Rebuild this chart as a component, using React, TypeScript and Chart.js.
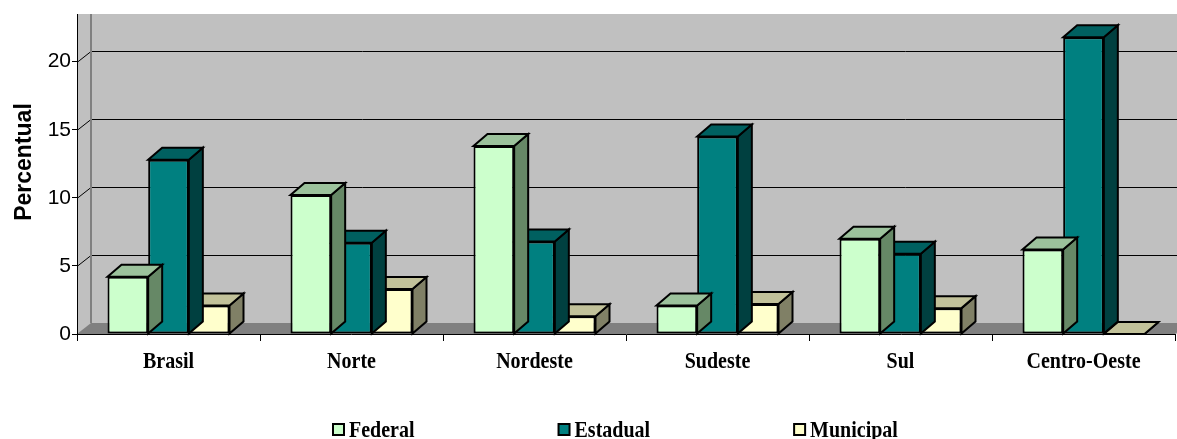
import React, { useEffect, useRef } from "react";
import { Chart, registerables } from "chart.js";

Chart.register(...registerables);

// Regions and shares (%) by administrative level
const regions = ["Brasil", "Norte", "Nordeste", "Sudeste", "Sul", "Centro-Oeste"];
const seriesNames = ["Federal", "Estadual", "Municipal"];
const federal = [4.2, 10.2, 13.8, 2.1, 7.0, 6.2];
const estadual = [12.8, 6.7, 6.8, 14.5, 5.9, 21.8];
const municipal = [2.1, 3.3, 1.3, 2.2, 1.9, 0];
const yTicks = [0, 5, 10, 15, 20];
const yMax = 23.5;
const axisTitle = "Percentual";

// Face colours: front, top (lit) and right side (shaded)
const FRONT = ["#CCFFCC", "#008080", "#FFFFCC"];
const TOP = ["#9CC29C", "#006060", "#C2C29A"];
const SIDE = ["#668866", "#004040", "#808066"];

const WALL_DX = 14;
const WALL_DY = 11;
const BAR_DX = 14;
const BAR_DY = 12;
const SERIF = "'Liberation Serif', 'Times New Roman', serif";
const SANS = "'Liberation Sans', Arial, sans-serif";
const STRETCH = 1.13;

function poly(ctx: CanvasRenderingContext2D, pts: number[][], fill: string) {
  ctx.beginPath();
  ctx.moveTo(pts[0][0], pts[0][1]);
  for (let k = 1; k < pts.length; k++) ctx.lineTo(pts[k][0], pts[k][1]);
  ctx.closePath();
  ctx.fillStyle = fill;
  ctx.fill();
  ctx.lineWidth = 2;
  ctx.lineJoin = "miter";
  ctx.strokeStyle = "#000";
  ctx.stroke();
}

const depthPlugin = {
  id: "depth3d",
  beforeDraw(chart: any) {
    const { ctx, chartArea: a, scales } = chart;
    const ys = scales.y;
    const W = chart.width;
    ctx.save();
    // side wall + back wall
    ctx.fillStyle = "#C0C0C0";
    ctx.fillRect(a.left, a.top, W - a.left, a.bottom - a.top);
    // floor
    ctx.fillStyle = "#808080";
    ctx.beginPath();
    ctx.moveTo(a.left, a.bottom);
    ctx.lineTo(a.right, a.bottom);
    ctx.lineTo(a.right + WALL_DX, a.bottom - WALL_DY);
    ctx.lineTo(a.left + WALL_DX, a.bottom - WALL_DY);
    ctx.closePath();
    ctx.fill();
    // gridlines across the side wall and the back wall
    ctx.strokeStyle = "#000";
    ctx.lineWidth = 1;
    for (const v of yTicks) {
      if (v === 0) continue;
      const py = Math.round(ys.getPixelForValue(v)) + 0.5;
      ctx.beginPath();
      ctx.moveTo(a.left, py);
      ctx.lineTo(a.left + WALL_DX, py - WALL_DY);
      ctx.lineTo(W, py - WALL_DY);
      ctx.stroke();
    }
    // corner between side wall and back wall
    ctx.strokeStyle = "#808080";
    ctx.lineWidth = 2;
    ctx.beginPath();
    ctx.moveTo(a.left + WALL_DX, a.top);
    ctx.lineTo(a.left + WALL_DX, a.bottom - WALL_DY);
    ctx.stroke();
    ctx.restore();
  },
  beforeDatasetDraw(chart: any, args: any) {
    const ctx = chart.ctx;
    const i = args.index;
    ctx.save();
    for (const el of args.meta.data) {
      const { x, y, base, width } = el.getProps(["x", "y", "base", "width"], true);
      const l = x - width / 2;
      const r = x + width / 2;
      poly(ctx, [[r, y], [r + BAR_DX, y - BAR_DY], [r + BAR_DX, base - BAR_DY], [r, base]], SIDE[i]);
      poly(ctx, [[l, y], [r, y], [r + BAR_DX, y - BAR_DY], [l + BAR_DX, y - BAR_DY]], TOP[i]);
    }
    ctx.restore();
  },
  afterDraw(chart: any) {
    const { ctx, scales } = chart;
    const xs = scales.x;
    ctx.save();
    ctx.fillStyle = "#000";

    // category labels
    ctx.font = `bold 20px ${SERIF}`;
    ctx.textAlign = "center";
    ctx.textBaseline = "alphabetic";
    regions.forEach((name, k) => {
      ctx.save();
      ctx.translate(xs.getPixelForValue(k), 367.5);
      ctx.scale(1, STRETCH);
      ctx.fillText(name, 0, 0);
      ctx.restore();
    });

    // value axis title
    ctx.save();
    ctx.font = `bold 23px ${SANS}`;
    ctx.translate(30.5, 162);
    ctx.rotate(-Math.PI / 2);
    ctx.textAlign = "center";
    ctx.fillText(axisTitle, 0, 0);
    ctx.restore();

    // legend
    ctx.font = `bold 20px ${SERIF}`;
    ctx.textAlign = "left";
    let lx = 332;
    const gap = 143;
    seriesNames.forEach((name, k) => {
      ctx.fillStyle = FRONT[k];
      ctx.fillRect(lx + 1, 424, 11, 11);
      ctx.strokeStyle = "#000";
      ctx.lineWidth = 2;
      ctx.strokeRect(lx + 1, 424, 11, 11);
      ctx.fillStyle = "#000";
      ctx.save();
      ctx.translate(lx + 17, 436.5);
      ctx.scale(1, STRETCH);
      ctx.fillText(name, 0, 0);
      ctx.restore();
      lx += 17 + ctx.measureText(name).width + gap;
    });
    ctx.restore();
  },
};

export default function App() {
  const ref = useRef<HTMLCanvasElement | null>(null);

  useEffect(() => {
    document.body.style.margin = "0";
    const canvas = ref.current;
    if (!canvas) return;
    const seriesValues = [federal, estadual, municipal];
    const chart = new Chart(canvas, {
      type: "bar",
      data: {
        labels: regions,
        datasets: seriesNames.map((name, k) => ({
          label: name,
          data: seriesValues[k],
          backgroundColor: FRONT[k],
          borderColor: "#000",
          borderWidth: 2,
          borderSkipped: false,
          categoryPercentage: 2 / 3,
          barPercentage: 1,
        })),
      },
      options: {
        responsive: false,
        animation: false,
        devicePixelRatio: 1,
        layout: { padding: { top: 14, right: 2, left: 0, bottom: 0 } },
        plugins: { legend: { display: false }, tooltip: { enabled: false } },
        scales: {
          x: {
            grid: { drawOnChartArea: false, drawTicks: true, tickLength: 7, color: "#000", offset: true },
            border: { color: "#000", width: 1 },
            ticks: { display: false },
            afterFit: (s: any) => {
              s.height = 105;
            },
          },
          y: {
            min: 0,
            max: yMax,
            grid: { drawOnChartArea: false, drawTicks: true, tickLength: 5, color: "#000" },
            border: { color: "#000", width: 1 },
            ticks: {
              padding: 1,
              color: "#000",
              font: { family: SANS, size: 21 },
            },
            afterBuildTicks: (s: any) => {
              s.ticks = yTicks.map((v) => ({ value: v }));
            },
            afterFit: (s: any) => {
              s.width = 77;
            },
          },
        },
      },
      plugins: [depthPlugin],
    } as any);
    return () => chart.destroy();
  }, []);

  return (
    <div style={{ position: "absolute", left: 0, top: 0, width: 1177, height: 439 }}>
      <canvas ref={ref} width={1177} height={439} />
    </div>
  );
}
